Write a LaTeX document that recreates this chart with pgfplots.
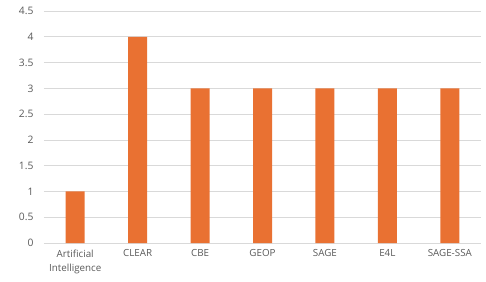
\documentclass[border=0pt]{standalone}
\usepackage{pgfplots}
\pgfplotsset{compat=1.18}
\usepackage{fontspec}
\setmainfont{Open Sans}
\definecolor{barorange}{HTML}{E97132}
\definecolor{gridgray}{HTML}{D9D9D9}
\definecolor{labgray}{HTML}{595959}
\begin{document}
\begin{tikzpicture}
\begin{axis}[
  name=ax,
  scale only axis,
  width=437pt, height=232pt,
  xmin=-0.5, xmax=6.5,
  ymin=0, ymax=4.5,
  ytick={0,0.5,...,4.5},
  xtick={0,1,2,3,4,5,6},
  xticklabels={{Artificial\\Intelligence},CLEAR,CBE,GEOP,SAGE,E4L,SAGE-SSA},
  xticklabel style={align=center, font=\fontsize{9.8}{14.5}\selectfont, text=labgray, yshift=-3pt},
  yticklabel style={font=\fontsize{10.3}{12}\selectfont, text=labgray, xshift=-7pt},
  /pgf/number format/assume math mode=true,
  axis line style={draw=none},
  major tick style={draw=none},
  ymajorgrids,
  grid style={gridgray, line width=0.7pt},
]
\addplot[ybar, bar width=19pt, fill=barorange, draw=none] coordinates {
  (0,1) (1,4) (2,3) (3,3) (4,3) (5,3) (6,3)
};
\end{axis}
\pgfresetboundingbox
\path ([xshift=-44pt,yshift=-38pt]ax.south west) rectangle ([xshift=5pt,yshift=11pt]ax.north east);
\end{tikzpicture}
\end{document}
